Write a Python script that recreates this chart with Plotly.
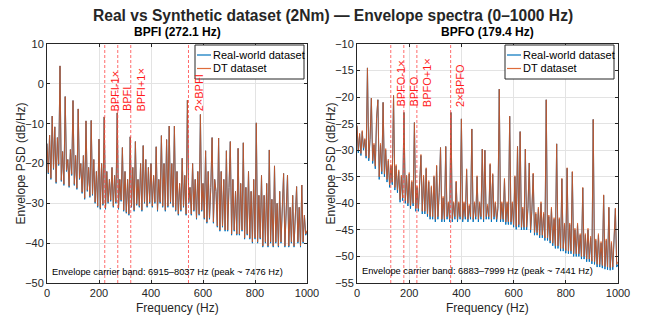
import plotly.graph_objects as go

# ---------------- data ----------------
freq_hz = list(range(0, 1001, 5))  # spectral sample grid (Hz)

bpfi_real = [
    -15.0, -22.6, -12.9, -24.0, -8.1, -21.5, -10.8, -25.0, -13.5, -20.5,
    4.5, -24.5, -17.0, -25.5, -3.2, -22.0, -19.0, -26.0, -16.5, -23.0,
    -4.2, -25.5, -18.0, -26.5, -6.3, -24.0, -20.0, -27.5, -18.0, -29.0,
    -9.3, -27.0, -21.0, -28.5, -9.2, -28.0, -19.0, -30.0, -22.0, -31.0,
    -13.9, -31.5, -20.0, -30.5, -8.3, -31.5, -22.0, -30.0, -24.0, -29.5,
    -21.0, -31.0, -23.0, -30.0, -7.3, -31.5, -24.0, -29.5, -16.0, -32.0,
    -22.0, -32.5, -24.0, -33.0, -13.3, -31.0, -21.0, -32.0, -14.5, -30.5,
    -24.0, -31.0, -20.0, -32.0, -15.5, -30.0, -19.0, -31.0, -21.0, -30.0,
    -20.0, -31.0, -23.0, -30.0, -15.8, -32.0, -24.0, -30.0, -13.0, -31.0,
    -20.0, -32.0, -14.0, -31.0, -10.6, -30.0, -20.0, -31.0, -10.6, -32.0,
    -22.0, -33.0, -25.0, -32.0, -18.7, -31.0, -23.0, -33.0, -4.1, -30.0,
    -26.0, -33.0, -20.0, -32.0, -24.0, -34.0, -22.0, -33.0, -7.7, -32.0,
    -25.0, -34.0, -16.8, -35.0, -22.0, -34.0, -26.0, -13.5, -35.0, -24.0,
    -27.0, -36.0, -13.6, -37.0, -22.0, -36.0, -24.0, -37.0, -16.8, -37.0,
    -26.0, -14.5, -38.0, -24.0, -37.0, -27.0, -38.0, -16.2, -38.0, -25.0,
    -37.0, -14.8, -39.0, -26.0, -38.0, -22.0, -39.0, -27.0, -40.0, -24.0,
    -39.0, -9.8, -40.0, -28.0, -39.0, -23.0, -41.0, -28.0, -40.0, -25.0,
    -41.0, -16.6, -40.0, -29.0, -41.0, -20.6, -40.0, -30.0, -41.0, -27.0,
    -40.0, -31.0, -22.5, -41.0, -30.0, -22.9, -41.0, -31.0, -40.0, -28.0,
    -41.0, -32.0, -25.8, -40.0, -31.0, -41.0, -25.4, -40.0, -33.0, -38.0,
    -37.0,
]

bpfi_dt = [
    -15.0, -22.3, -12.9, -23.7, -8.1, -21.2, -10.8, -24.7, -13.5, -20.2,
    4.5, -24.2, -17.0, -25.2, -3.2, -21.7, -19.0, -25.7, -16.5, -22.7,
    -4.2, -25.2, -18.0, -26.2, -6.3, -23.7, -20.0, -27.2, -18.0, -28.7,
    -9.3, -26.7, -21.0, -28.2, -9.2, -27.7, -19.0, -29.7, -22.0, -30.7,
    -13.9, -31.2, -20.0, -30.2, -8.3, -31.2, -22.0, -29.7, -24.0, -29.2,
    -21.0, -30.7, -23.0, -29.7, -7.3, -31.2, -24.0, -29.2, -16.0, -31.7,
    -22.0, -32.2, -24.0, -32.7, -13.3, -30.7, -21.0, -31.7, -14.5, -30.2,
    -24.0, -30.7, -20.0, -31.7, -15.5, -29.7, -19.0, -30.7, -21.0, -29.7,
    -20.0, -30.7, -23.0, -29.7, -15.8, -31.7, -24.0, -29.7, -13.0, -30.7,
    -20.0, -31.7, -14.0, -30.7, -10.6, -29.7, -20.0, -30.7, -10.6, -31.7,
    -22.0, -32.7, -25.0, -31.7, -18.7, -30.7, -23.0, -32.7, -4.1, -29.7,
    -26.0, -32.7, -20.0, -31.7, -24.0, -33.7, -22.0, -32.7, -7.7, -31.7,
    -25.0, -33.7, -16.8, -34.7, -22.0, -33.7, -26.0, -13.5, -34.7, -24.0,
    -27.0, -35.7, -13.6, -36.7, -22.0, -35.7, -24.0, -36.7, -16.8, -36.7,
    -26.0, -14.5, -37.7, -24.0, -36.7, -27.0, -37.7, -16.2, -37.7, -25.0,
    -36.7, -14.8, -38.7, -26.0, -37.7, -22.0, -38.7, -27.0, -39.7, -24.0,
    -38.7, -9.8, -39.7, -28.0, -38.7, -23.0, -40.7, -28.0, -39.7, -25.0,
    -40.7, -16.6, -39.7, -29.0, -40.7, -20.6, -39.7, -30.0, -40.7, -27.0,
    -39.7, -31.0, -22.5, -40.7, -30.0, -22.9, -40.7, -31.0, -39.7, -28.0,
    -40.7, -32.0, -25.8, -39.7, -31.0, -40.7, -25.4, -39.7, -33.0, -37.7,
    -36.8,
]

bpfo_real = [
    -25.5, -30.5, -27.0, -31.0, -26.5, -30.0, -28.0, -31.5, -14.5, -32.0,
    -28.0, -20.2, -32.5, -29.0, -33.5, -24.0, -20.5, -35.5, -29.0, -34.5,
    -21.0, -35.0, -30.0, -36.0, -32.0, -37.0, -33.0, -36.5, -19.7, -37.5,
    -33.0, -38.0, -34.0, -39.8, -35.0, -39.5, -22.9, -40.0, -35.0, -40.5,
    -34.5, -41.0, -36.0, -40.5, -24.8, -41.5, -37.0, -41.5, -36.5, -31.0,
    -42.0, -35.0, -42.0, -33.5, -42.5, -36.0, -43.0, -37.0, -43.0, -35.0,
    -43.5, -33.0, -43.0, -38.0, -29.5, -43.5, -39.0, -43.5, -29.3, -43.0,
    -40.0, -43.5, -22.9, -43.5, -40.0, -43.0, -36.0, -43.5, -40.0, -43.0,
    -24.1, -43.5, -40.0, -43.0, -33.7, -43.5, -40.5, -43.0, -26.0, -43.5,
    -40.0, -43.0, -35.0, -43.5, -40.0, -43.0, -29.8, -43.5, -30.0, -43.0,
    -40.5, -43.0, -32.7, -43.5, -34.6, -43.0, -40.0, -43.5, -41.0, -18.5,
    -43.5, -40.0, -43.5, -35.5, -44.0, -40.0, -44.0, -23.6, -44.0, -40.0,
    -44.5, -35.0, -44.9, -29.3, -44.5, -26.5, -45.0, -41.0, -45.0, -29.8,
    -45.0, -41.0, -32.4, -45.5, -41.5, -34.5, -46.0, -42.0, -46.0, -41.0,
    -46.5, -40.0, -46.5, -42.0, -47.0, -20.5, -47.0, -42.5, -47.5, -41.0,
    -48.0, -43.0, -48.5, -28.8, -48.5, -43.0, -49.0, -35.4, -49.0, -44.0,
    -49.4, -33.4, -49.5, -44.0, -49.5, -34.1, -50.0, -45.0, -50.0, -44.0,
    -50.0, -46.0, -50.5, -37.1, -50.5, -46.0, -51.0, -45.0, -51.0, -46.5,
    -51.4, -24.2, -51.5, -47.0, -52.0, -46.0, -52.0, -47.5, -52.2, -38.5,
    -52.4, -47.0, -52.5, -40.8, -52.6, -47.5, -52.5, -46.0, -41.0, -52.0,
    -51.5,
]

bpfo_dt = [
    -25.3, -30.1, -26.8, -30.6, -26.3, -29.6, -27.8, -31.1, -14.5, -31.5,
    -27.7, -20.2, -32.0, -28.7, -33.0, -23.8, -20.5, -35.0, -28.7, -34.0,
    -21.0, -34.5, -29.7, -35.5, -31.7, -36.5, -32.7, -36.0, -19.7, -37.0,
    -32.7, -37.5, -33.7, -39.3, -34.7, -39.0, -22.9, -39.5, -34.7, -40.0,
    -34.2, -40.5, -35.7, -40.0, -24.8, -41.0, -36.7, -41.0, -36.2, -30.8,
    -41.5, -34.7, -41.5, -33.3, -42.0, -35.7, -42.5, -36.7, -42.5, -34.8,
    -43.0, -32.8, -42.5, -37.7, -29.5, -43.0, -38.7, -43.0, -29.3, -42.5,
    -39.7, -43.0, -22.9, -43.0, -39.7, -42.5, -35.8, -43.0, -39.7, -42.5,
    -24.1, -43.0, -39.7, -42.5, -33.5, -43.0, -40.2, -42.5, -26.0, -43.0,
    -39.7, -42.5, -34.8, -43.0, -39.7, -42.5, -29.8, -43.0, -30.0, -42.5,
    -40.2, -42.5, -32.5, -43.0, -34.4, -42.5, -39.7, -43.0, -40.7, -18.5,
    -43.0, -39.7, -43.0, -35.3, -43.5, -39.7, -43.5, -23.6, -43.5, -39.7,
    -44.0, -34.8, -44.4, -29.3, -44.0, -26.5, -44.5, -40.7, -44.5, -29.8,
    -44.5, -40.7, -32.4, -45.0, -41.2, -34.3, -45.5, -41.7, -45.5, -40.7,
    -46.0, -39.7, -46.0, -41.7, -46.5, -20.5, -46.5, -42.2, -47.0, -40.7,
    -47.5, -42.7, -48.0, -28.8, -48.0, -42.7, -48.5, -35.3, -48.5, -43.7,
    -48.9, -33.3, -49.0, -43.7, -49.0, -34.0, -49.5, -44.7, -49.5, -43.7,
    -49.5, -45.7, -50.0, -37.0, -50.0, -45.7, -50.5, -44.7, -50.5, -46.2,
    -50.9, -24.2, -51.0, -46.7, -51.5, -45.7, -51.5, -47.2, -51.7, -38.4,
    -51.9, -46.7, -52.0, -40.7, -52.1, -47.2, -52.0, -45.7, -40.9, -51.5,
    -51.0,
]

bpfi_markers = [222.1, 272.1, 322.1, 544.2]
bpfi_marker_labels = ["BPFI-1×", "BPFI", "BPFI+1×", "2×BPFI"]
bpfo_markers = [129.4, 179.4, 229.4, 358.8]
bpfo_marker_labels = ["BPFO-1×", "BPFO", "BPFO+1×", "2×BPFO"]

left_yticks = [-50, -40, -30, -20, -10, 0, 10]
right_yticks = [-55, -50, -45, -40, -35, -30, -25, -20, -15, -10]
x_ticks = [0, 200, 400, 600, 800, 1000]

series_names = ["Real-world dataset", "DT dataset"]
title_text = "Real vs Synthetic dataset (2Nm) — Envelope spectra (0–1000 Hz)"
left_title = "BPFI (272.1 Hz)"
right_title = "BPFO (179.4 Hz)"
left_note = "Envelope carrier band: 6915–8037 Hz (peak ~ 7476 Hz)"
right_note = "Envelope carrier band: 6883–7999 Hz (peak ~ 7441 Hz)"
x_label = "Frequency (Hz)"
y_label = "Envelope PSD (dB/Hz)"

# ---------------- figure ----------------
BLUE = "#0072BD"
ORANGE = "#D95319"
AX = "#262626"
GRID = "#E3E3E3"
FONT = "Liberation Sans, Arial, sans-serif"
W, H = 645, 321

fig = go.Figure()
colors = [BLUE, ORANGE]
for xr, yr, series in [("x", "y", [bpfi_real, bpfi_dt]), ("x2", "y2", [bpfo_real, bpfo_dt])]:
    for name, vals, col in zip(series_names, series, colors):
        fig.add_trace(go.Scatter(x=freq_hz, y=vals, mode="lines", name=name,
                                 line=dict(color=col, width=1),
                                 opacity=1.0 if col == BLUE else 0.85,
                                 xaxis=xr, yaxis=yr, showlegend=False))

lx0, lx1 = 47 / W, 307 / W
rx0, rx1 = 357 / W, 618 / W
yb, yt = 1 - 283 / H, 1 - 44 / H

axis_common = dict(showgrid=True, gridcolor=GRID, gridwidth=1, zeroline=False,
                   showline=True, linecolor=AX, linewidth=1, mirror="ticks",
                   ticks="inside", ticklen=3, tickcolor=AX, automargin=False,
                   tickfont=dict(family=FONT, size=11, color=AX))

fig.update_layout(
    width=W, height=H,
    margin=dict(l=0, r=0, t=0, b=0),
    paper_bgcolor="white", plot_bgcolor="white",
    font=dict(family=FONT, color=AX),
    xaxis=dict(domain=[lx0, lx1], range=[0, 1000], tickvals=x_ticks, anchor="y", **axis_common),
    yaxis=dict(domain=[yb, yt], range=[-50, 10], tickvals=left_yticks, anchor="x", **axis_common),
    xaxis2=dict(domain=[rx0, rx1], range=[0, 1000], tickvals=x_ticks, anchor="y2", **axis_common),
    yaxis2=dict(domain=[yb, yt], range=[-55, -10], tickvals=right_yticks, anchor="x2", **axis_common),
    showlegend=False,
)


def px(xp):
    return xp / W


def py(yp):
    return 1 - yp / H


annotations = [
    dict(text="<b>" + title_text + "</b>", xref="paper", yref="paper", x=(lx0 + rx1) / 2, y=py(15),
         xanchor="center", yanchor="middle", showarrow=False, font=dict(family=FONT, size=15.6, color=AX)),
    dict(text="<b>" + left_title + "</b>", xref="paper", yref="paper", x=(lx0 + lx1) / 2, y=py(32),
         xanchor="center", yanchor="middle", showarrow=False, font=dict(family=FONT, size=12, color="black")),
    dict(text="<b>" + right_title + "</b>", xref="paper", yref="paper", x=(rx0 + rx1) / 2, y=py(32),
         xanchor="center", yanchor="middle", showarrow=False, font=dict(family=FONT, size=12, color="black")),
    dict(text=left_note, xref="x", yref="y", x=12, y=-47.2, xanchor="left", yanchor="middle",
         showarrow=False, font=dict(family=FONT, size=9.3, color="black")),
    dict(text=right_note, xref="x2", yref="y2", x=12, y=-52.8, xanchor="left", yanchor="middle",
         showarrow=False, font=dict(family=FONT, size=9.3, color="black")),
]
# axis titles
for cx in [(lx0 + lx1) / 2, (rx0 + rx1) / 2]:
    annotations.append(dict(text=x_label, xref="paper", yref="paper", x=cx, y=py(308),
                            xanchor="center", yanchor="middle", showarrow=False,
                            font=dict(family=FONT, size=12, color=AX)))
for cxp in [20, 330]:
    annotations.append(dict(text=y_label, xref="paper", yref="paper", x=px(cxp), y=(yb + yt) / 2,
                            xanchor="center", yanchor="middle", textangle=-90, showarrow=False,
                            font=dict(family=FONT, size=12, color=AX)))

shapes = []
# marker lines + rotated labels
for xs, labels, xr, yr, ybottom in [(bpfi_markers, bpfi_marker_labels, "x", "y", -7.4),
                                     (bpfo_markers, bpfo_marker_labels, "x2", "y2", -22.2)]:
    for xv, lab in zip(xs, labels):
        shapes.append(dict(type="line", xref=xr, yref=yr + " domain", x0=xv, x1=xv, y0=0, y1=1,
                           line=dict(color="rgba(255,70,70,0.8)", width=1, dash="3px,2px"), layer="above"))
        annotations.append(dict(text=lab, xref=xr, yref=yr, x=xv, y=ybottom, xanchor="left", yanchor="bottom",
                                xshift=2, textangle=-90, showarrow=False,
                                font=dict(family=FONT, size=11, color="#FF1A1A")))

# legend boxes (one per panel)
for bx0, bx1 in [(195, 304), (505, 614)]:
    shapes.append(dict(type="rect", xref="paper", yref="paper", x0=px(bx0), x1=px(bx1),
                       y0=py(79), y1=py(45), fillcolor="white", line=dict(color=AX, width=1), layer="above"))
    for i, (name, col) in enumerate(zip(series_names, colors)):
        yy = 55 + i * 13.5
        shapes.append(dict(type="line", xref="paper", yref="paper", x0=px(bx0 + 2), x1=px(bx0 + 16),
                           y0=py(yy), y1=py(yy), line=dict(color=col, width=1.2), layer="above",
                           opacity=1.0 if col == BLUE else 0.85))
        annotations.append(dict(text=name, xref="paper", yref="paper", x=px(bx0 + 16), y=py(yy),
                                xanchor="left", yanchor="middle", showarrow=False,
                                font=dict(family=FONT, size=11, color="black")))

fig.update_layout(annotations=annotations, shapes=shapes)

fig.write_html("out.html")
